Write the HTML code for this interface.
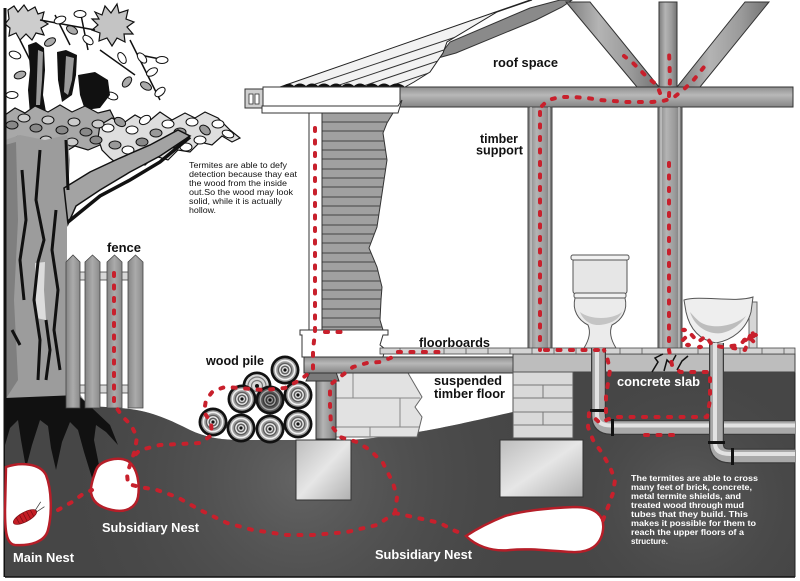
<!DOCTYPE html>
<html><head><meta charset="utf-8"><style>
html,body{margin:0;padding:0;background:#fff;}
svg{display:block;}
.d{fill:none;stroke:#c8202c;stroke-width:4;stroke-linecap:round;stroke-linejoin:round;stroke-dasharray:3 9.5;}
.lb{font-family:"Liberation Sans",Arial,sans-serif;font-weight:bold;}
.cap{font-family:"Liberation Sans",Arial,sans-serif;font-size:8.6px;fill:#111;}
.wt{font-family:"Liberation Sans",Arial,sans-serif;font-weight:bold;font-size:8.6px;fill:#fff;}
</style></head><body>
<svg width="800" height="581" viewBox="0 0 800 581" xmlns="http://www.w3.org/2000/svg">
<defs>
<linearGradient id="wv" x1="0" y1="0" x2="1" y2="0"><stop offset="0" stop-color="#7c7c7c"/><stop offset=".35" stop-color="#b4b4b4"/><stop offset=".7" stop-color="#9a9a9a"/><stop offset="1" stop-color="#727272"/></linearGradient>
<linearGradient id="wh" x1="0" y1="0" x2="0" y2="1"><stop offset="0" stop-color="#8e8e8e"/><stop offset=".4" stop-color="#b8b8b8"/><stop offset="1" stop-color="#858585"/></linearGradient>
<linearGradient id="pk" x1="0" y1="0" x2="1" y2="0"><stop offset="0" stop-color="#858585"/><stop offset=".5" stop-color="#ababab"/><stop offset="1" stop-color="#8a8a8a"/></linearGradient>
<linearGradient id="ft" x1="0" y1="0" x2="1" y2="1"><stop offset="0" stop-color="#bdbdbd"/><stop offset=".5" stop-color="#e6e6e6"/><stop offset="1" stop-color="#b0b0b0"/></linearGradient>
<radialGradient id="g1" cx="300" cy="480" r="260" gradientUnits="userSpaceOnUse"><stop offset="0" stop-color="#646464"/><stop offset="1" stop-color="#444" stop-opacity="0"/></radialGradient>
<radialGradient id="g2" cx="690" cy="500" r="150" gradientUnits="userSpaceOnUse"><stop offset="0" stop-color="#5c5c5c"/><stop offset="1" stop-color="#444" stop-opacity="0"/></radialGradient>
<clipPath id="roofc"><polygon points="280,87 405,87 414,82 430,72 443,53 447,42 497,12 532,0 530,0"/></clipPath>
<clipPath id="sidc"><polygon points="322,113 393,113 387,123 383,133 387,160 383,187 377,227 369,248 377,267 382,287 381,300 380,320 383,330 322,330"/></clipPath>
<g id="log"><circle r="14.5" fill="#111"/><circle r="11.8" fill="#9c9c9c"/><circle r="9.6" fill="none" stroke="#f0f0f0" stroke-width="1.6"/><circle r="7.2" fill="#5e5e5e"/><circle r="5.2" fill="none" stroke="#eee" stroke-width="1.3"/><circle r="3" fill="#e0e0e0"/><circle r="1.6" fill="#111"/></g>
<g id="logd"><circle r="14.5" fill="#111"/><circle r="11.8" fill="#555"/><circle r="9.6" fill="none" stroke="#aaa" stroke-width="1.4"/><circle r="7.2" fill="#3a3a3a"/><circle r="5.2" fill="none" stroke="#aaa" stroke-width="1.2"/><circle r="3" fill="#999"/><circle r="1.6" fill="#111"/></g>
</defs>
<rect width="800" height="581" fill="#fff"/>

<!-- roof -->
<polygon points="438,58 450,42 530,8 560,0 572,0 562,7 536,20 456,53" fill="#8a8a8a" stroke="#333" stroke-width="1"/>
<polygon points="280,87 405,87 414,82 430,72 443,53 447,42 497,12 532,0 530,0" fill="#f2f2f2" stroke="#222" stroke-width="1"/>
<g clip-path="url(#roofc)" stroke="#333" stroke-width="1">
<line x1="250" y1="106" x2="560" y2="2"/><line x1="250" y1="115" x2="560" y2="11"/><line x1="250" y1="124" x2="560" y2="20"/>
<line x1="250" y1="133" x2="560" y2="29"/><line x1="250" y1="142" x2="560" y2="38"/><line x1="250" y1="151" x2="560" y2="47"/>
<line x1="250" y1="160" x2="560" y2="56"/><line x1="250" y1="169" x2="560" y2="65"/><line x1="250" y1="178" x2="560" y2="74"/>
</g>
<path d="M282,87 Q288,81 294,86 Q300,81 306,86 Q312,81 318,86 Q324,81 330,86 Q336,81 342,86 Q348,81 354,86 Q360,81 366,86 Q372,81 378,86 Q384,81 390,86 Q396,81 404,86 L404,88 L282,88 Z" fill="#111"/>

<!-- braces and posts -->
<polygon points="566,2 590,2 659,87 637,87" fill="url(#wv)" stroke="#333" stroke-width="1"/>
<polygon points="745,2 769,2 700,87 677,87" fill="url(#wv)" stroke="#333" stroke-width="1"/>
<rect x="659" y="2" width="18" height="86" fill="url(#wv)" stroke="#333" stroke-width="1"/>
<rect x="400" y="87" width="393" height="20" fill="url(#wh)" stroke="#333" stroke-width="1"/>
<rect x="528" y="107" width="24" height="242" fill="url(#wv)" stroke="#444" stroke-width="1"/>
<line x1="531" y1="107" x2="531" y2="349" stroke="#ddd" stroke-width="1"/>
<line x1="549" y1="107" x2="549" y2="349" stroke="#ddd" stroke-width="1"/>
<rect x="658" y="107" width="24" height="242" fill="url(#wv)" stroke="#444" stroke-width="1"/>
<line x1="661" y1="107" x2="661" y2="349" stroke="#ddd" stroke-width="1"/>
<line x1="679" y1="107" x2="679" y2="349" stroke="#ddd" stroke-width="1"/>

<!-- eave -->
<rect x="245" y="89" width="18" height="19" fill="#cfcfcf" stroke="#333" stroke-width="1"/>
<rect x="249" y="94" width="4" height="10" fill="#fff" stroke="#333" stroke-width=".8"/>
<rect x="255" y="94" width="4" height="10" fill="#fff" stroke="#333" stroke-width=".8"/>
<rect x="263" y="87" width="137" height="19" fill="#fff" stroke="#333" stroke-width="1"/>
<polygon points="262,106 398,106 402,100 398,113 262,113" fill="#fff" stroke="#333" stroke-width="1"/>

<!-- siding -->
<polygon points="322,113 393,113 387,123 383,133 387,160 383,187 377,227 369,248 377,267 382,287 381,300 380,320 383,330 322,330" fill="#a0a0a0" stroke="#333" stroke-width="1"/>
<g clip-path="url(#sidc)" stroke="#444" stroke-width="1">
<line x1="322" y1="122" x2="400" y2="122"/><line x1="322" y1="131" x2="400" y2="131"/><line x1="322" y1="141" x2="400" y2="141"/>
<line x1="322" y1="150" x2="400" y2="150"/><line x1="322" y1="159" x2="400" y2="159"/><line x1="322" y1="169" x2="400" y2="169"/>
<line x1="322" y1="178" x2="400" y2="178"/><line x1="322" y1="187" x2="400" y2="187"/><line x1="322" y1="197" x2="400" y2="197"/>
<line x1="322" y1="206" x2="400" y2="206"/><line x1="322" y1="215" x2="400" y2="215"/><line x1="322" y1="225" x2="400" y2="225"/>
<line x1="322" y1="234" x2="400" y2="234"/><line x1="322" y1="243" x2="400" y2="243"/><line x1="322" y1="253" x2="400" y2="253"/>
<line x1="322" y1="262" x2="400" y2="262"/><line x1="322" y1="271" x2="400" y2="271"/><line x1="322" y1="281" x2="400" y2="281"/>
<line x1="322" y1="290" x2="400" y2="290"/><line x1="322" y1="299" x2="400" y2="299"/><line x1="322" y1="309" x2="400" y2="309"/>
<line x1="322" y1="318" x2="400" y2="318"/><line x1="322" y1="327" x2="400" y2="327"/>
</g>
<rect x="309" y="113" width="13" height="218" fill="#fff" stroke="#333" stroke-width="1"/>

<!-- tree foliage -->
<polygon points="8,10 14,6 18,12 24,5 28,11 35,7 38,14 44,12 42,20 48,24 41,28 44,35 36,33 32,40 26,34 20,40 16,33 9,36 10,28 5,24 9,19" fill="#cdcdcd" stroke="#111" stroke-width="1.2"/>
<polygon points="95,12 102,15 105,6 111,13 117,4 119,13 128,10 126,19 134,22 127,27 133,34 124,34 125,42 117,38 112,46 107,38 99,41 100,33 92,30 98,25 92,19 99,19" fill="#c4c4c4" stroke="#111" stroke-width="1.2"/>
<g fill="#fff" stroke="#111" stroke-width="1">
<path d="M40,20 L95,30 M55,15 L70,45 M80,10 L88,50 M130,40 L160,100 M140,55 L165,60 M20,40 L30,60 M100,50 L135,75" fill="none" stroke-width="1.5"/>
<ellipse cx="60" cy="20" rx="6" ry="3.5" transform="rotate(-20 60 20)"/><ellipse cx="72" cy="30" rx="6" ry="3.5" transform="rotate(30 72 30)" fill="#aaa"/>
<ellipse cx="80" cy="14" rx="6" ry="3.5"/><ellipse cx="88" cy="40" rx="6" ry="3.5" transform="rotate(40 88 40)"/>
<ellipse cx="50" cy="42" rx="6" ry="3.5" transform="rotate(-30 50 42)" fill="#aaa"/><ellipse cx="142" cy="58" rx="6" ry="3.5" transform="rotate(50 142 58)"/>
<ellipse cx="152" cy="72" rx="6" ry="3.5" transform="rotate(-30 152 72)"/><ellipse cx="146" cy="86" rx="6" ry="3.5" transform="rotate(30 146 86)" fill="#aaa"/>
<ellipse cx="160" cy="92" rx="6" ry="3.5" transform="rotate(-40 160 92)"/><ellipse cx="162" cy="60" rx="6" ry="3.5"/>
<ellipse cx="122" cy="58" rx="6" ry="3.5" transform="rotate(60 122 58)"/><ellipse cx="127" cy="82" rx="6" ry="3.5" transform="rotate(-50 127 82)" fill="#aaa"/>
<ellipse cx="112" cy="96" rx="6" ry="3.5" transform="rotate(20 112 96)"/><ellipse cx="15" cy="55" rx="6" ry="3.5" transform="rotate(20 15 55)"/>
<ellipse cx="20" cy="75" rx="6" ry="3.5" transform="rotate(-20 20 75)" fill="#aaa"/><ellipse cx="12" cy="95" rx="6" ry="3.5"/>
</g>
<polygon points="28,45 36,42 44,48 45,70 43,95 46,112 30,114 28,90 30,70" fill="#111"/>
<polygon points="38,50 43,52 42,80 40,105 36,105" fill="#9a9a9a"/>
<polygon points="57,52 66,50 77,55 76,75 72,95 62,102 58,80" fill="#111"/>
<polygon points="66,56 74,58 72,80 68,95 64,92" fill="#9a9a9a"/>
<polygon points="78,75 95,72 108,80 110,95 100,108 85,110 80,95" fill="#111"/>
<polygon points="5,115 15,108 25,113 35,106 48,112 60,105 72,112 85,106 98,113 110,110 115,120 108,130 112,140 100,145 88,150 75,146 65,152 52,147 40,153 28,148 15,152 5,148" fill="#a8a8a8" stroke="#111" stroke-width="1.2"/>
<polygon points="100,125 112,118 122,124 135,115 148,122 160,112 172,120 185,113 195,118 205,112 218,118 230,130 240,138 232,142 222,136 212,145 200,142 190,152 178,150 168,160 155,156 145,165 132,160 120,166 110,158 102,150 98,138" fill="#dedede" stroke="#111" stroke-width="1.2"/>
<g fill="#fff" stroke="#111" stroke-width="1">
<ellipse cx="108" cy="128" rx="6" ry="4"/><ellipse cx="120" cy="122" rx="6" ry="4" transform="rotate(30 120 122)" fill="#999"/>
<ellipse cx="132" cy="130" rx="6" ry="4"/><ellipse cx="145" cy="120" rx="6" ry="4" transform="rotate(-30 145 120)"/>
<ellipse cx="156" cy="133" rx="6" ry="4" fill="#999"/><ellipse cx="168" cy="124" rx="6" ry="4"/>
<ellipse cx="180" cy="132" rx="6" ry="4" fill="#999"/><ellipse cx="192" cy="122" rx="6" ry="4"/>
<ellipse cx="205" cy="130" rx="6" ry="4" transform="rotate(40 205 130)" fill="#999"/><ellipse cx="218" cy="124" rx="6" ry="4"/>
<ellipse cx="228" cy="134" rx="6" ry="3.5" transform="rotate(20 228 134)"/><ellipse cx="115" cy="145" rx="6" ry="4" fill="#999"/>
<ellipse cx="128" cy="150" rx="6" ry="4"/><ellipse cx="142" cy="142" rx="6" ry="4" fill="#888"/>
<ellipse cx="158" cy="150" rx="6" ry="4"/><ellipse cx="172" cy="144" rx="6" ry="4" fill="#999"/>
<ellipse cx="186" cy="147" rx="6" ry="4"/><ellipse cx="200" cy="140" rx="6" ry="4"/>
<ellipse cx="138" cy="160" rx="6" ry="4"/><ellipse cx="150" cy="157" rx="5" ry="3.5" fill="#999"/>
<ellipse cx="12" cy="125" rx="6" ry="4" fill="#888"/><ellipse cx="24" cy="118" rx="6" ry="4" fill="#ccc"/>
<ellipse cx="36" cy="128" rx="6" ry="4" fill="#888"/><ellipse cx="48" cy="120" rx="6" ry="4" fill="#ccc"/>
<ellipse cx="62" cy="130" rx="6" ry="4" fill="#888"/><ellipse cx="74" cy="122" rx="6" ry="4" fill="#ccc"/>
<ellipse cx="86" cy="132" rx="6" ry="4" fill="#888"/><ellipse cx="98" cy="124" rx="6" ry="4" fill="#ccc"/>
<ellipse cx="20" cy="140" rx="6" ry="4" fill="#ccc"/><ellipse cx="46" cy="140" rx="6" ry="4" fill="#ccc"/>
<ellipse cx="72" cy="142" rx="6" ry="4" fill="#ccc"/><ellipse cx="96" cy="140" rx="6" ry="4" fill="#888"/>
</g>

<!-- trunk -->
<polygon points="5,140 20,135 45,140 67,135 70,160 68,190 67,220 67,300 70,360 78,392 92,410 5,410" fill="#9c9c9c"/>
<polygon points="5,145 16,142 18,220 14,300 18,380 5,400" fill="#7f7f7f"/>
<polygon points="35,263 45,262 44,290 46,320 36,318" fill="#dcdcdc"/>
<polygon points="64,188 90,172 120,158 150,145 178,130 190,136 160,156 130,172 100,190 76,206 68,224" fill="#a3a3a3" stroke="#111" stroke-width="1.5"/>
<path d="M68,222 L100,196 L130,180 L160,162 L190,137" fill="none" stroke="#111" stroke-width="3.5"/>
<path d="M5,8 L5,577" stroke="#111" stroke-width="3"/>
<g fill="none" stroke="#111" stroke-width="3" stroke-linejoin="round">
<path d="M40,150 L36,200 L44,240 L38,262 L34,300 L40,340 L38,380"/>
<path d="M22,170 L26,220 L20,260 L24,300"/>
<path d="M56,210 L52,250 L58,290 L54,330 L60,370"/>
<path d="M66,140 L68,190"/>
<path d="M46,320 L50,350 L46,380"/>
<path d="M12,330 L20,345"/>
</g>

<!-- ground -->
<path d="M5,408 C40,404 80,405 120,408 C150,410 170,420 190,430 C205,437 220,440 240,440 L350,440 C380,438 410,434 440,428 C470,422 495,416 513,412 L513,372 L795,372 L795,577 L5,577 Z" fill="#464646"/>
<path d="M5,408 C40,404 80,405 120,408 C150,410 170,420 190,430 C205,437 220,440 240,440 L350,440 C380,438 410,434 440,428 C470,422 495,416 513,412 L513,372 L795,372 L795,577 L5,577 Z" fill="url(#g1)"/>
<path d="M513,372 L795,372 L795,577 L513,577 Z" fill="url(#g2)"/>
<line x1="5" y1="577" x2="795" y2="577" stroke="#111" stroke-width="1.5"/>
<line x1="795" y1="372" x2="795" y2="577" stroke="#222" stroke-width="1"/>

<!-- roots -->
<polygon points="5,398 78,395 92,408 110,425 118,445 106,432 96,425 94,440 100,470 104,492 92,478 84,452 78,430 70,422 62,442 56,470 51,448 48,426 40,420 32,445 26,468 21,440 18,420 10,428 5,445" fill="#111"/>

<!-- fence -->
<g stroke="#444" stroke-width=".8">
<rect x="78" y="272" width="52" height="8" fill="#d8d8d8"/>
<rect x="78" y="385" width="52" height="8" fill="#d8d8d8"/>
<polygon points="66,262 73,255 80,262 80,408 66,408" fill="url(#pk)"/>
<polygon points="85,262 92.5,255 100,262 100,408 85,408" fill="url(#pk)"/>
<polygon points="107,262 114.5,255 122,262 122,408 107,408" fill="url(#pk)"/>
<polygon points="128,262 135.5,255 143,262 143,408 128,408" fill="url(#pk)"/>
</g>

<!-- foundations -->
<rect x="296" y="440" width="55" height="60" fill="url(#ft)" stroke="#333" stroke-width="1"/>
<rect x="500" y="440" width="83" height="57" fill="url(#ft)" stroke="#333" stroke-width="1"/>
<polygon points="336,373 408,373 422,397 415,407 422,417 417,437 336,437" fill="#e2e2e2" stroke="#666" stroke-width="1"/>
<g stroke="#888" stroke-width="1"><line x1="336" y1="398" x2="420" y2="398"/><line x1="336" y1="427" x2="419" y2="427"/><line x1="353" y1="373" x2="353" y2="398"/><line x1="400" y1="398" x2="400" y2="427"/><line x1="370" y1="427" x2="370" y2="437"/></g>
<rect x="316" y="378" width="20" height="61" fill="url(#wv)" stroke="#333" stroke-width="1"/>
<polygon points="306,381 339,381 336,372 310,372" fill="#7a7a7a" stroke="#333" stroke-width="1"/>
<polygon points="300,330 388,330 388,335 383,335 380,345 385,349 383,357 302,357 302,335 300,335" fill="#fff" stroke="#333" stroke-width="1"/>
<rect x="304" y="357" width="209" height="16" fill="url(#wh)" stroke="#333" stroke-width="1"/>
<rect x="513" y="354" width="282" height="18" fill="#bdbdbd" stroke="#444" stroke-width="1"/>
<rect x="380" y="348" width="415" height="6" fill="#d4d4d4" stroke="#444" stroke-width=".8"/>
<g stroke="#555" stroke-width=".8">
<line x1="400" y1="348" x2="400" y2="354"/><line x1="422" y1="348" x2="422" y2="354"/><line x1="444" y1="348" x2="444" y2="354"/><line x1="466" y1="348" x2="466" y2="354"/><line x1="488" y1="348" x2="488" y2="354"/><line x1="510" y1="348" x2="510" y2="354"/><line x1="532" y1="348" x2="532" y2="354"/><line x1="554" y1="348" x2="554" y2="354"/><line x1="576" y1="348" x2="576" y2="354"/><line x1="620" y1="348" x2="620" y2="354"/><line x1="642" y1="348" x2="642" y2="354"/><line x1="698" y1="348" x2="698" y2="354"/><line x1="740" y1="348" x2="740" y2="354"/><line x1="762" y1="348" x2="762" y2="354"/><line x1="784" y1="348" x2="784" y2="354"/>
</g>
<rect x="513" y="372" width="60" height="66" fill="#d9d9d9" stroke="#555" stroke-width="1"/>
<g stroke="#777" stroke-width="1"><line x1="513" y1="385" x2="573" y2="385"/><line x1="513" y1="398" x2="573" y2="398"/><line x1="513" y1="412" x2="573" y2="412"/><line x1="513" y1="425" x2="573" y2="425"/><line x1="543" y1="385" x2="543" y2="398"/><line x1="543" y1="412" x2="543" y2="425"/></g>

<!-- toilet -->
<rect x="573" y="258" width="54" height="36" rx="3" fill="#e6e6e6" stroke="#555" stroke-width="1"/>
<rect x="571" y="255" width="58" height="5" rx="2" fill="#f2f2f2" stroke="#555" stroke-width="1"/>
<rect x="574" y="293" width="52" height="5" rx="2" fill="#f0f0f0" stroke="#555" stroke-width="1"/>
<path d="M575,298 L625,298 C628,310 622,320 612,325 C609,332 611,340 616,348 L584,348 C589,340 591,332 588,325 C578,320 572,310 575,298 Z" fill="#ebebeb" stroke="#555" stroke-width="1"/>
<path d="M580,312 C590,320 612,320 622,312 C618,322 605,325 598,325 C590,325 583,320 580,312 Z" fill="#c4c4c4"/>
<!-- basin -->
<rect x="749" y="302" width="8" height="46" fill="#d6d6d6" stroke="#666" stroke-width="1"/>
<path d="M684,300 C700,295 735,303 753,297 L751,312 C746,330 732,340 716,343 C700,340 690,330 686,312 Z" fill="#eeeeee" stroke="#555" stroke-width="1"/>
<path d="M690,312 C695,328 710,335 722,333 C735,330 742,322 746,316 C735,326 712,330 700,322 C695,318 692,314 690,312 Z" fill="#bdbdbd"/>

<!-- pipes -->
<g fill="none" stroke-linejoin="round">
<path d="M598.5,348 L598.5,415 Q598.5,427.5 611,427.5 L795,427.5" stroke="#3a3a3a" stroke-width="15"/>
<path d="M598.5,348 L598.5,415 Q598.5,427.5 611,427.5 L795,427.5" stroke="#a9a9a9" stroke-width="12.5"/>
<path d="M597,348 L597,415 Q597,425.5 611,425.5 L795,425.5" stroke="#e2e2e2" stroke-width="4"/>
<path d="M716.5,343 L716.5,443 Q716.5,456 730,456 L795,456" stroke="#3a3a3a" stroke-width="15"/>
<path d="M716.5,343 L716.5,443 Q716.5,456 730,456 L795,456" stroke="#a9a9a9" stroke-width="12.5"/>
<path d="M715,343 L715,443 Q715,454 730,454 L795,454" stroke="#e2e2e2" stroke-width="4"/>
</g>
<rect x="590" y="409" width="17" height="3" fill="#111"/>
<rect x="611" y="419" width="3" height="17" fill="#111"/>
<rect x="708" y="441" width="17" height="3" fill="#111"/>
<rect x="731" y="448" width="3" height="17" fill="#111"/>
<!-- crack -->
<g fill="none" stroke="#111" stroke-width="1.5"><path d="M652,372 L658,362 L655,358 L663,354"/><path d="M664,371 L667,360 L671,364 L676,355"/><path d="M677,370 L682,361 L688,356"/></g>

<!-- logs -->
<g transform="translate(257,386)"><circle r="14.5" fill="#111"/><circle r="11.8" fill="#d8d8d8"/><circle r="9" fill="none" stroke="#777" stroke-width="1.2"/><circle r="5.5" fill="none" stroke="#777" stroke-width="1.2"/><circle r="2" fill="#111"/></g>
<use href="#log" x="285" y="370"/>
<use href="#log" x="242" y="399"/>
<use href="#logd" x="270" y="400"/>
<use href="#log" x="298" y="395"/>
<use href="#log" x="213" y="422"/>
<use href="#log" x="241" y="428"/>
<use href="#log" x="270" y="429"/>
<use href="#log" x="298" y="424"/>

<!-- nests -->
<path d="M6,467 C20,462 40,463 46,475 C52,490 52,515 48,530 C45,542 30,546 15,545 C6,544 5,530 5,510 Z" fill="#fff" stroke="#b51e28" stroke-width="2.5"/>
<g transform="rotate(-28 25 517)"><ellipse cx="25" cy="517" rx="13" ry="4.8" fill="#c41d25" stroke="#7a0f14" stroke-width=".7"/>
<path d="M17,513 L17,521 M21,512.5 L21,521.5 M25,512.3 L25,521.7 M29,512.5 L29,521.5 M33,513 L33,521" stroke="#7a0f14" stroke-width=".7"/>
<path d="M37,516 L46,511 M37,518 L47,517" stroke="#333" stroke-width=".7" fill="none"/></g>
<path d="M96,470 C100,460 118,456 128,461 C138,468 140,485 138,497 C136,508 125,513 112,510 C98,507 90,500 91,488 C92,480 94,476 96,470 Z" fill="#fff" stroke="#b51e28" stroke-width="2.5"/>
<path d="M466,536 C478,528 490,522 505,516 C525,510 550,508 575,507 C595,507 605,515 603,530 C601,545 590,553 572,552 C550,551 530,548 510,550 C490,552 475,545 466,536 Z" fill="#fff" stroke="#b51e28" stroke-width="2.5"/>

<!-- red mud tube dots -->
<path class="d" d="M315,128 L315,332 L313,350 L313,370 L300,380 L285,388 L263,390 L240,388 L225,387 L213,391 L206,400 L204,412 L211,423 L212,435 L200,443 L180,444 L160,445 L140,450 L132,458"/>
<path class="d" d="M325,332 L345,332"/>
<path class="d" d="M114,273 L114,404 L122,416 L131,425 L137,437 L135,450 L131,462 L127,474 L128,484 L140,487 L157,490 L177,497 L200,510 L227,523 L253,530 L287,535 L313,535 L347,532 L377,525 L395,513"/>
<path class="d" d="M58,510 L72,502 L83,494 L92,490"/>
<path class="d" d="M395,513 L397,497 L393,483 L383,463 L370,450 L357,442 L340,437 L331,425 L330,405 L330,385 L340,377 L353,367 L367,363 L380,362 L393,357 L397,352 L440,352"/>
<path class="d" d="M395,513 L413,517 L427,520 L440,523 L453,530 L465,535"/>
<path class="d" d="M603,520 L608,507 L613,493 L615,480 L610,467 L602,453 L593,440 L588,427 L589,413 L600,423 L613,417 L707,417 L710,400 L710,372 L680,372 L672,365 L669,350"/>
<path class="d" d="M645,435 L675,435"/>
<path class="d" d="M606,412 L606,397 L608,383 L610,370 L607,357 L604,350"/>
<path class="d" d="M545,350 L600,350"/>
<path class="d" d="M540,112 L540,350"/>
<path class="d" d="M542,106 L548,100 L560,97 L573,97 L587,98 L600,100 L613,101 L627,102 L638,102 L652,102 L663,101 L673,98 L683,90 L692,82 L700,72 L708,62"/>
<path class="d" d="M660,93 L657,85 L647,77 L638,68 L632,62 L624,56"/>
<path class="d" d="M669,96 L670,80 L669,50"/>
<path class="d" d="M669,163 L669,350"/>
<path class="d" d="M683,340 L690,333 L698,342 L706,336 L712,345 L722,347 L740,345 L748,336 L755,343 L752,330 L745,350 L733,348"/>
<g fill="#c8202c"><ellipse cx="688" cy="345" rx="3" ry="2.2"/><ellipse cx="700" cy="347" rx="3" ry="2.2"/><ellipse cx="745" cy="340" rx="3" ry="2.2"/><ellipse cx="755" cy="335" rx="3" ry="2.2"/><ellipse cx="684" cy="330" rx="3" ry="2.2"/></g>

<!-- labels -->
<text class="lb" x="493" y="67" font-size="12.5" textLength="65" lengthAdjust="spacingAndGlyphs" fill="#111">roof space</text>
<text class="lb" x="480" y="143" font-size="12.5" textLength="38" lengthAdjust="spacingAndGlyphs" fill="#111">timber</text>
<text class="lb" x="476" y="154.5" font-size="12.5" textLength="47" lengthAdjust="spacingAndGlyphs" fill="#111">support</text>
<text class="lb" x="107" y="252" font-size="12.5" textLength="34" lengthAdjust="spacingAndGlyphs" fill="#111">fence</text>
<text class="lb" x="206" y="365" font-size="12.5" textLength="58" lengthAdjust="spacingAndGlyphs" fill="#111">wood pile</text>
<text class="lb" x="419" y="347" font-size="12.5" textLength="71" lengthAdjust="spacingAndGlyphs" fill="#111">floorboards</text>
<text class="lb" x="434" y="385" font-size="12.5" textLength="68" lengthAdjust="spacingAndGlyphs" fill="#111">suspended</text>
<text class="lb" x="434" y="398" font-size="12.5" textLength="71" lengthAdjust="spacingAndGlyphs" fill="#111">timber floor</text>
<text class="lb" x="617" y="386" font-size="12.5" textLength="83" lengthAdjust="spacingAndGlyphs" fill="#fff">concrete slab</text>
<text class="lb" x="13" y="562" font-size="12.5" textLength="61" lengthAdjust="spacingAndGlyphs" fill="#fff">Main Nest</text>
<text class="lb" x="102" y="532" font-size="12.5" textLength="97" lengthAdjust="spacingAndGlyphs" fill="#fff">Subsidiary Nest</text>
<text class="lb" x="375" y="559" font-size="12.5" textLength="97" lengthAdjust="spacingAndGlyphs" fill="#fff">Subsidiary Nest</text>

<text class="cap" x="189" y="168" textLength="98" lengthAdjust="spacingAndGlyphs">Termites are able to defy</text>
<text class="cap" x="189" y="177" textLength="108" lengthAdjust="spacingAndGlyphs">detection because thay eat</text>
<text class="cap" x="189" y="186" textLength="98" lengthAdjust="spacingAndGlyphs">the wood from the inside</text>
<text class="cap" x="189" y="195" textLength="104" lengthAdjust="spacingAndGlyphs">out.So the wood may look</text>
<text class="cap" x="189" y="204" textLength="93" lengthAdjust="spacingAndGlyphs">solid, while it is actually</text>
<text class="cap" x="189" y="213" textLength="27" lengthAdjust="spacingAndGlyphs">hollow.</text>

<text class="wt" x="631" y="481" textLength="127" lengthAdjust="spacingAndGlyphs">The termites are able to cross</text>
<text class="wt" x="631" y="490" textLength="121" lengthAdjust="spacingAndGlyphs">many feet of brick, concrete,</text>
<text class="wt" x="631" y="499" textLength="110" lengthAdjust="spacingAndGlyphs">metal termite shields, and</text>
<text class="wt" x="631" y="508" textLength="113" lengthAdjust="spacingAndGlyphs">treated wood through mud</text>
<text class="wt" x="631" y="517" textLength="117" lengthAdjust="spacingAndGlyphs">tubes that they build. This</text>
<text class="wt" x="631" y="526" textLength="125" lengthAdjust="spacingAndGlyphs">makes it possible for them to</text>
<text class="wt" x="631" y="535" textLength="113" lengthAdjust="spacingAndGlyphs">reach the upper floors of a</text>
<text class="wt" x="631" y="544" textLength="37" lengthAdjust="spacingAndGlyphs">structure.</text>
</svg>
</body></html>
